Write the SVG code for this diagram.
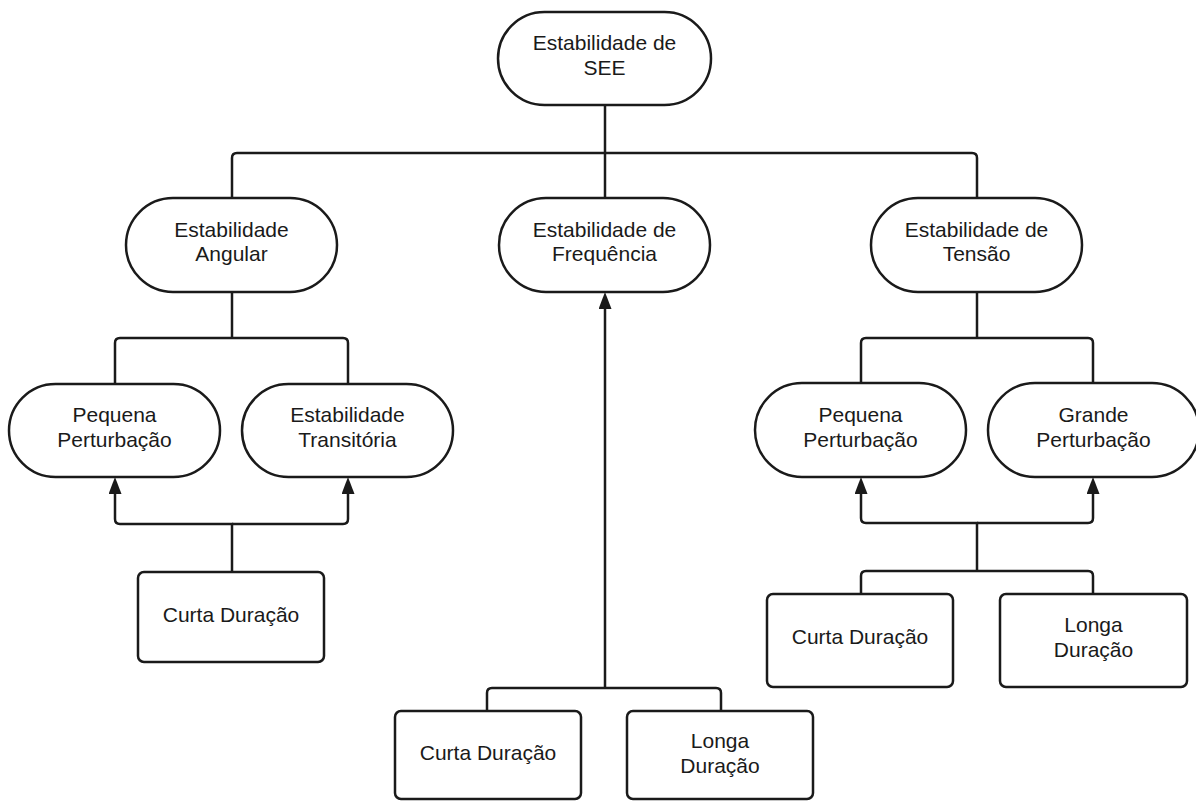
<svg xmlns="http://www.w3.org/2000/svg" width="1196" height="801" viewBox="0 0 1196 801">
  <style>
    .shape { fill: #ffffff; stroke: #1a1a1a; stroke-width: 2.5; }
    .wire { fill: none; stroke: #1a1a1a; stroke-width: 2.5; }
    .label { font-family: "Liberation Sans", Arial, sans-serif; font-size: 21px; fill: #1a1a1a; text-anchor: middle; }
  </style>
  <defs>
    <marker id="arrow" markerUnits="userSpaceOnUse" markerWidth="17" markerHeight="13" viewBox="0 0 17 13" refX="8" refY="6.5" orient="auto">
      <path d="M0,0 L17,6.5 L0,13 z" fill="#1a1a1a"/>
    </marker>
  </defs>
  <rect width="1196" height="801" fill="#ffffff"/>

  <!-- connectors -->
  <g id="connectors">
    <path class="wire" d="M605,105 V198"/>
    <path class="wire" d="M232,198 V158 Q232,153 237,153 H972 Q977,153 977,158 V198"/>
    <!-- angular branch -->
    <path class="wire" d="M232,292 V338"/>
    <path class="wire" d="M115,384 V343 Q115,338 120,338 H343 Q348,338 348,343 V384"/>
    <path class="wire" d="M232,572 V524 H120 Q115,524 115,519 V486" marker-end="url(#arrow)"/>
    <path class="wire" d="M232,524 H343 Q348,524 348,519 V486" marker-end="url(#arrow)"/>
    <!-- frequency branch -->
    <path class="wire" d="M605,688 V301" marker-end="url(#arrow)"/>
    <path class="wire" d="M487,711 V693 Q487,688 492,688 H716 Q721,688 721,693 V711"/>
    <!-- voltage branch -->
    <path class="wire" d="M977,292 V338"/>
    <path class="wire" d="M861,383 V343 Q861,338 866,338 H1088 Q1093,338 1093,343 V383"/>
    <path class="wire" d="M977,571 V523 H866 Q861,523 861,518 V486" marker-end="url(#arrow)"/>
    <path class="wire" d="M977,523 H1088 Q1093,523 1093,518 V486" marker-end="url(#arrow)"/>
    <path class="wire" d="M861,594 V576 Q861,571 866,571 H1088 Q1093,571 1093,576 V594"/>
  </g>

  <g id="node-see">
    <rect class="shape" x="498" y="12" width="213" height="93" rx="46.5"/>
    <text class="label" x="604.5" y="50">Estabilidade de</text>
    <text class="label" x="604.5" y="75">SEE</text>
  </g>

  <g id="node-angular">
    <rect class="shape" x="126" y="198" width="211" height="94" rx="47"/>
    <text class="label" x="231.5" y="237">Estabilidade</text>
    <text class="label" x="231.5" y="261">Angular</text>
  </g>

  <g id="node-frequencia">
    <rect class="shape" x="499" y="198" width="211" height="94" rx="47"/>
    <text class="label" x="604.5" y="237">Estabilidade de</text>
    <text class="label" x="604.5" y="261">Frequência</text>
  </g>

  <g id="node-tensao">
    <rect class="shape" x="871" y="198" width="211" height="94" rx="47"/>
    <text class="label" x="976.5" y="237">Estabilidade de</text>
    <text class="label" x="976.5" y="261">Tensão</text>
  </g>

  <g id="node-ang-pequena">
    <rect class="shape" x="9" y="384" width="211" height="93" rx="46.5"/>
    <text class="label" x="114.5" y="422">Pequena</text>
    <text class="label" x="114.5" y="447">Perturbação</text>
  </g>

  <g id="node-ang-transitoria">
    <rect class="shape" x="242" y="384" width="211" height="93" rx="46.5"/>
    <text class="label" x="347.5" y="422">Estabilidade</text>
    <text class="label" x="347.5" y="447">Transitória</text>
  </g>

  <g id="node-ten-pequena">
    <rect class="shape" x="755" y="383" width="211" height="94" rx="47"/>
    <text class="label" x="860.5" y="422">Pequena</text>
    <text class="label" x="860.5" y="447">Perturbação</text>
  </g>

  <g id="node-ten-grande">
    <rect class="shape" x="988" y="383" width="211" height="94" rx="47"/>
    <text class="label" x="1093.5" y="422">Grande</text>
    <text class="label" x="1093.5" y="447">Perturbação</text>
  </g>

  <g id="node-ang-curta">
    <rect class="shape" x="138" y="572" width="186" height="90" rx="6"/>
    <text class="label" x="231" y="622">Curta Duração</text>
  </g>

  <g id="node-freq-curta">
    <rect class="shape" x="395" y="711" width="186" height="88" rx="6"/>
    <text class="label" x="488" y="760">Curta Duração</text>
  </g>

  <g id="node-freq-longa">
    <rect class="shape" x="627" y="711" width="186" height="88" rx="6"/>
    <text class="label" x="720" y="748">Longa</text>
    <text class="label" x="720" y="773">Duração</text>
  </g>

  <g id="node-ten-curta">
    <rect class="shape" x="767" y="594" width="186" height="93" rx="6"/>
    <text class="label" x="860" y="644">Curta Duração</text>
  </g>

  <g id="node-ten-longa">
    <rect class="shape" x="1000" y="594" width="187" height="93" rx="6"/>
    <text class="label" x="1093.5" y="632">Longa</text>
    <text class="label" x="1093.5" y="657">Duração</text>
  </g>
</svg>
